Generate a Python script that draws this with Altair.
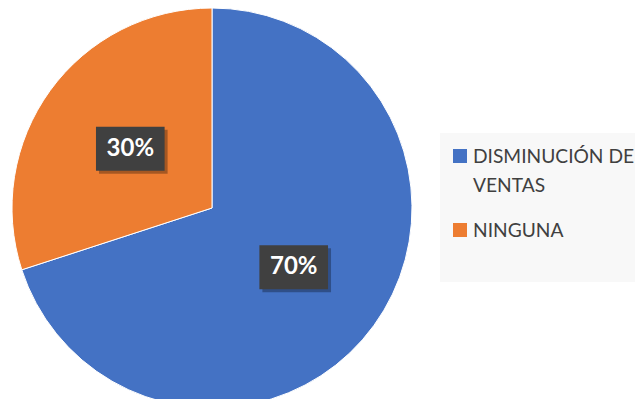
import altair as alt
import pandas as pd

categories = ["DISMINUCIÓN DE VENTAS", "NINGUNA"]
values = [70, 30]
labels = ["70%", "30%"]
legend_lines = ["DISMINUCIÓN DE|VENTAS", "NINGUNA"]
colors = ["#4472C4", "#ED7D31"]

df = pd.DataFrame({
    "cat": categories,
    "val": values,
    "lab": labels,
    "leg": legend_lines,
    "idx": list(range(len(categories))),
})

CX, CY, R, RL = 204, 200, 200, 101

color = alt.Color("cat:N", scale=alt.Scale(domain=categories, range=colors), legend=None)
order = alt.Order("idx:Q")

base = alt.Chart(df)

pie = base.mark_arc(outerRadius=R, stroke="#ffffff", strokeWidth=1).encode(
    theta=alt.Theta("val:Q", stack=True),
    color=color,
    order=order,
    x=alt.value(CX),
    y=alt.value(CY),
)

pos = base.transform_window(
    cum="sum(val)", sort=[alt.SortField("idx")]
).transform_joinaggregate(
    tot="sum(val)"
).transform_calculate(
    mid="2*PI*(datum.cum - datum.val/2)/datum.tot",
).transform_calculate(
    px=f"{CX} + {RL}*sin(datum.mid)",
    py=f"{CY} - {RL}*cos(datum.mid)",
)

box_path = "M-1.56,-1L1.56,-1L1.56,1L-1.56,1Z"
shadow = pos.transform_calculate(sx="datum.px + 3", sy="datum.py + 3").mark_point(
    shape=box_path, filled=True, size=1936, color="#000000", opacity=0.3).encode(
    x=alt.X("sx:Q", scale=None), y=alt.Y("sy:Q", scale=None)
)

box = pos.mark_point(shape=box_path, filled=True, size=1936, color="#404040", opacity=1).encode(
    x=alt.X("px:Q", scale=None), y=alt.Y("py:Q", scale=None)
)

txt = pos.mark_text(font="Lato", fontWeight="bold", fontSize=24, color="#ffffff",
                    align="center", baseline="middle").encode(
    x=alt.X("px:Q", scale=None), y=alt.Y("py:Q", scale=None), text="lab:N"
)

# legend background
legbg = base.transform_filter("datum.idx == 0").mark_rect(color="#f8f8f8").encode(
    x=alt.value(432), x2=alt.value(640), y=alt.value(125), y2=alt.value(274)
)

legpos = base.transform_calculate(
    ly="148 + datum.idx*74",
    ty="155 + datum.idx*74",
    lines="split(datum.leg, '|')",
)

legsym = legpos.mark_square(size=196, opacity=1).encode(
    x=alt.value(452), y=alt.Y("ly:Q", scale=None), color=color
)

legtxt = legpos.mark_text(font="Lato", fontSize=19.2, color="#404040", align="left",
                          baseline="alphabetic", lineHeight=29).encode(
    x=alt.value(465), y=alt.Y("ty:Q", scale=None), text=alt.Text("lines:N")
)

chart = alt.layer(pie, legbg, shadow, box, txt, legsym, legtxt).properties(
    width=627, height=391, padding=0, autosize=alt.AutoSizeParams(type="none")
).configure_view(stroke=None)

chart.save("out.html", embed_options={"renderer": "svg", "actions": False})
